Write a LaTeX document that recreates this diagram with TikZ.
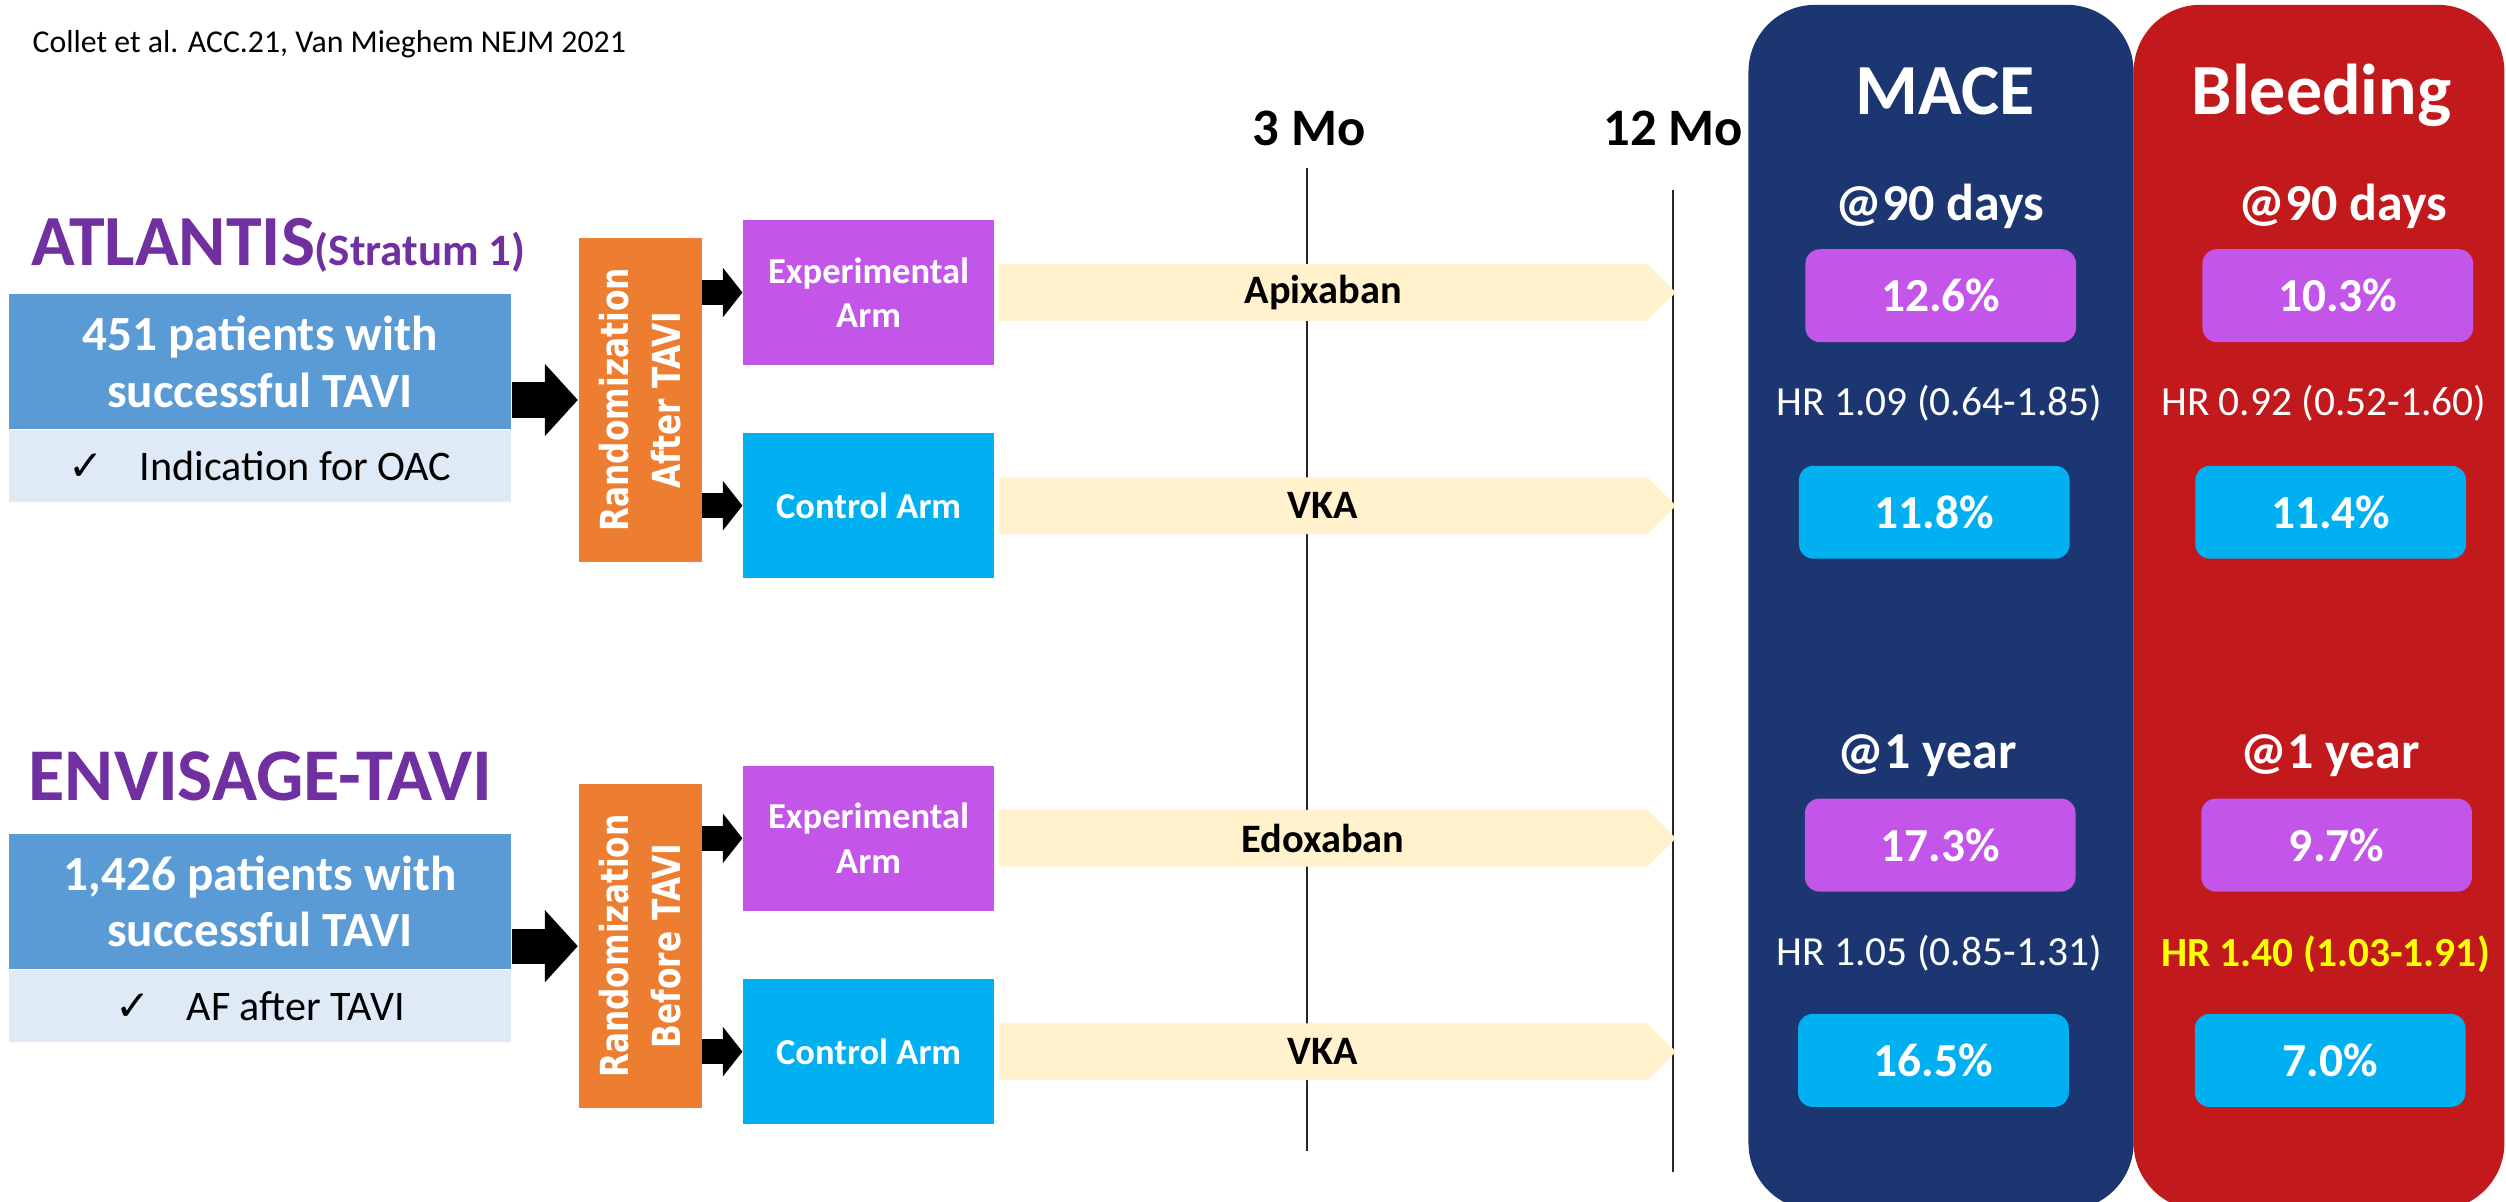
\documentclass[tikz,border=0pt]{standalone}
\usepackage{fontspec}
\setmainfont{Carlito}
\newfontfamily\randfont{DejaVu Sans}[FakeStretch=0.81]
\newfontfamily\symfont{DejaVu Sans}
\usetikzlibrary{positioning,arrows.meta,shapes.symbols}
\definecolor{ttlpurple}{HTML}{7030A0}
\definecolor{patblue}{HTML}{5B9BD5}
\definecolor{indblue}{HTML}{DEEBF7}
\definecolor{randorange}{HTML}{ED7D31}
\definecolor{exppurple}{HTML}{C455E9}
\definecolor{ctlcyan}{HTML}{00B0F0}
\definecolor{drugcream}{HTML}{FFF2CC}
\definecolor{macenavy}{HTML}{1B3670}
\definecolor{bleedred}{HTML}{C21A1C}
\definecolor{hryellow}{HTML}{FFFF00}
\begin{document}
\begin{tikzpicture}[x=0.16mm,y=-0.16mm,line join=miter]
\tikzset{
  ttl/.style={anchor=base west,inner sep=0pt,text=ttlpurple,font=\fontsize{20.5}{24}\selectfont\bfseries},
  patbox/.style={fill=patblue,text=white,align=center,minimum width=50.3mm,minimum height=13.5mm,inner sep=0pt,font=\fontsize{14}{16.2}\selectfont\bfseries},
  indbox/.style={fill=indblue,minimum width=50.3mm,minimum height=7.2mm,inner sep=0pt,font=\fontsize{12}{14}\selectfont},
  randbox/.style={fill=randorange,minimum width=12.32mm,minimum height=32.4mm,inner sep=0pt},
  randlabel/.style={rotate=90,text=white,align=center,inner sep=0pt,font=\randfont\fontsize{11}{14.6}\selectfont\bfseries},
  armbox/.style={text=white,align=center,minimum width=25.12mm,minimum height=14.5mm,inner sep=0pt,font=\fontsize{10.4}{12.7}\selectfont\bfseries},
  drug/.style={shape=signal,signal to=east,fill=drugcream,minimum width=67.8mm,minimum height=5.68mm,inner sep=0pt,font=\fontsize{11.5}{13}\selectfont\bfseries},
  bigarrow/.style={line width=3.52mm,-{Triangle[length=3.3mm,width=7.04mm]}},
  smallarrow/.style={line width=2.48mm,-{Triangle[length=1.97mm,width=4.88mm]}},
  month/.style={anchor=base,inner sep=0pt,font=\fontsize{15}{18}\selectfont\bfseries},
  tline/.style={line width=0.5pt,black!85},
  outcome/.style={anchor=base,inner sep=0pt,text=white,font=\fontsize{20.5}{24}\selectfont\bfseries},
  period/.style={anchor=base,inner sep=0pt,text=white,font=\fontsize{14.8}{17}\selectfont\bfseries},
  resbox/.style={rounded corners=1.45mm,text=white,minimum width=27.1mm,minimum height=9.3mm,inner sep=0pt,font=\fontsize{13.5}{16}\selectfont\bfseries},
  hrtxt/.style={anchor=base,inner sep=0pt,text=white,font=\fontsize{11.8}{14}\selectfont}
}
\useasboundingbox (0,0) rectangle (1568,752);

\node[anchor=base west,inner sep=0pt,font=\fontsize{9.05}{11}\selectfont] (cite) at (20,33) {Collet et al. ACC.21, Van Mieghem NEJM 2021};

\node[month] (mo3) at (819,91) {3 Mo};
\node[month] (mo12) at (1047,91) {12 Mo};
\draw[tline] (818,105) -- (818,720);
\draw[tline] (1047,119) -- (1047,733);

\node[ttl] (atl) at (19,166) {ATLANTIS{\fontsize{12.8}{14}\selectfont(Stratum 1)}};
\node[patbox] (pat1) at (162.75,226.25) {451 patients with\\successful TAVI};
\node[indbox,below=0mm of pat1] (ind1) {{\symfont ✓}\hspace{3.6mm}Indication for OAC};
\node[randbox] (rand1) at (400.5,250.25) {};
\node[randlabel] (rand1txt) at (rand1) {Randomization\\After TAVI};
\node[armbox,fill=exppurple] (exp1) at (543.5,183) {Experimental\\Arm};
\node[armbox,fill=ctlcyan] (ctl1) at (543.5,316.4) {Control Arm};
\node[drug,right=0.32mm of exp1] (drug1) {Apixaban};
\node[drug,right=0.32mm of ctl1] (vka1) {VKA};
\draw[bigarrow] (pat1.east |- rand1.west) -- (rand1.west);
\draw[smallarrow] (rand1.east |- exp1.west) -- (exp1.west);
\draw[smallarrow] (rand1.east |- ctl1.west) -- (ctl1.west);

\node[ttl,font=\fontsize{21.2}{24}\selectfont\bfseries] (env) at (17.5,500.6) {ENVISAGE-TAVI};
\node[patbox] (pat2) at (162.75,564) {1,426 patients with\\successful TAVI};
\node[indbox,below=0mm of pat2] (ind2) {{\symfont ✓}\hspace{3.6mm}AF after TAVI};
\node[randbox] (rand2) at (400.5,592) {};
\node[randlabel] (rand2txt) at (rand2) {Randomization\\Before TAVI};
\node[armbox,fill=exppurple] (exp2) at (543.5,524.5) {Experimental\\Arm};
\node[armbox,fill=ctlcyan] (ctl2) at (543.5,658) {Control Arm};
\node[drug,right=0.32mm of exp2] (drug2) {Edoxaban};
\node[drug,right=0.32mm of ctl2] (vka2) {VKA};
\draw[bigarrow] (pat2.east |- rand2.west) -- (rand2.west);
\draw[smallarrow] (rand2.east |- exp2.west) -- (exp2.west);
\draw[smallarrow] (rand2.east |- ctl2.west) -- (ctl2.west);

\fill[bleedred,rounded corners=6.7mm] (1335,3) rectangle (1567,757);
\fill[macenavy,rounded corners=6.7mm] (1094,3) rectangle (1335,757);
\node[outcome] (mace) at (1217,71.4) {MACE};
\node[outcome] (bleed) at (1452.6,71.4) {Bleeding};
\node[period] (m90) at (1214,137.7) {@90 days};
\node[period] (b90) at (1466,137.7) {@90 days};
\node[period] (m1y) at (1206,481) {@1 year};
\node[period] (b1y) at (1458,481) {@1 year};
\foreach \nm/\x/\y/\c/\t in {mexp1/1214.3/185/exppurple/12.6\%,mctl1/1210.3/320.5/ctlcyan/11.8\%,
  bexp1/1462.75/185/exppurple/10.3\%,bctl1/1458.3/320.5/ctlcyan/11.4\%,
  mexp2/1214/528.75/exppurple/17.3\%,mctl2/1209.75/663.5/ctlcyan/16.5\%,
  bexp2/1462/528.75/exppurple/9.7\%,bctl2/1458/663.5/ctlcyan/7.0\%}
  \node[resbox,fill=\c] (\nm) at (\x,\y) {\t};
\node[hrtxt] (mhr1) at (1213.5,260) {HR 1.09 (0.64-1.85)};
\node[hrtxt] (bhr1) at (1454,260) {HR 0.92 (0.52-1.60)};
\node[hrtxt] (mhr2) at (1213.5,604) {HR 1.05 (0.85-1.31)};
\node[hrtxt,text=hryellow,font=\fontsize{11.8}{14}\selectfont\bfseries] (bhr2) at (1455,605) {HR 1.40 (1.03-1.91)};
\end{tikzpicture}
\end{document}
